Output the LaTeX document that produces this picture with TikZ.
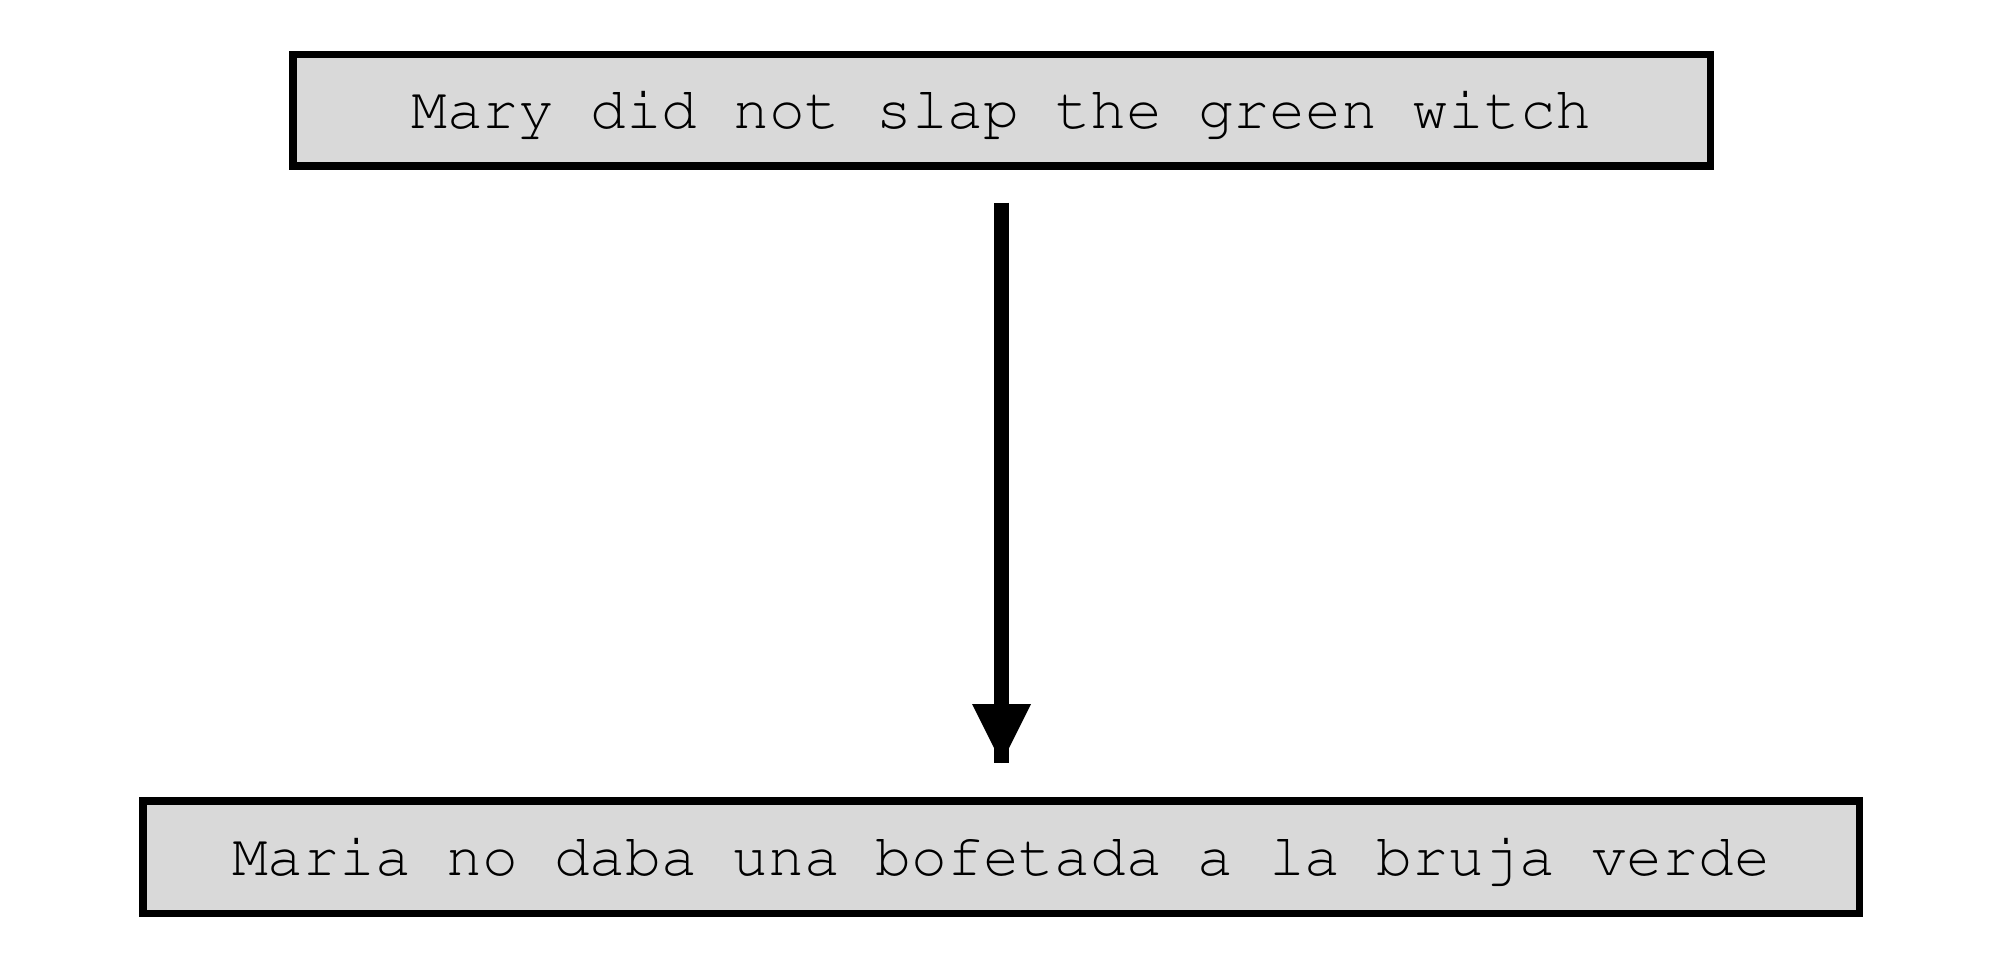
\documentclass[tikz,border=0pt]{standalone}
\usetikzlibrary{arrows.meta}
\definecolor{boxgray}{HTML}{D9D9D9}
\newcommand{\sentfont}{\fontencoding{T1}\fontfamily{pcr}\fontsize{29.8pt}{34pt}\selectfont}
\tikzset{
sentence/.style={shape=rectangle, draw=black, fill=boxgray, line width=3.75pt,
  inner sep=0pt, text height=22pt, text depth=4pt, font=\sentfont},
shaft/.style={line width=7.5pt, draw=black}}

\begin{document}
\begin{tikzpicture}[x=0.5pt, y=-0.5pt]

    \useasboundingbox (0,0) rectangle (2000,968);

    \node[sentence, minimum width=708.75pt, minimum height=55.75pt] (english) at (1001.5,110.5) {Mary did not slap the green witch};
    \node[sentence, minimum width=858.25pt, minimum height=56.25pt] (spanish) at (1001,857) {Maria no daba una bofetada a la bruja verde};

    \coordinate (from) at (1001.5,203);
    \coordinate (to) at (1001.5,763);

    \draw[shaft] (from) -- (to);
    \draw[shaft, -{Triangle[width=29.5pt, length=29.5pt, line width=0pt]}] (from) -- (to);

\end{tikzpicture}
\end{document}
